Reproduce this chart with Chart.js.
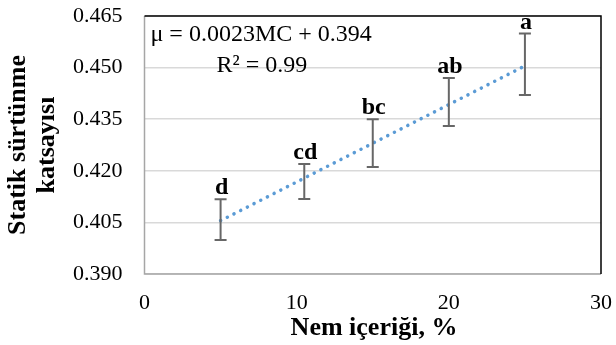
<!DOCTYPE html>
<html>
<head>
<meta charset="utf-8">
<script src="https://cdn.jsdelivr.net/npm/chart.js@4"></script>
<style>
  html, body { margin: 0; padding: 0; background: #fff; }
  #wrap { width: 616px; height: 345px; }
</style>
</head>
<body>
<div id="wrap"><canvas id="chart" width="616" height="345"></canvas></div>
<script>
// ---------- Data ----------
const moisture = [5, 10.5, 15, 20, 25];
const meanFriction = [0.4055, 0.417, 0.4283, 0.4397, 0.4505];
const errLow = [0.3999, 0.4118, 0.4211, 0.4330, 0.4420];
const errHigh = [0.4117, 0.4220, 0.4350, 0.4470, 0.4599];
const groupLetters = ["d", "cd", "bc", "ab", "a"];

const trendX = [5, 25];
const trendY = [0.4055, 0.4505];

const yTicks = [0.390, 0.405, 0.420, 0.435, 0.450, 0.465];
const xTicks = [0, 10, 20, 30];

const equationLines = ["μ = 0.0023MC + 0.394", "R² = 0.99"];
const xTitle = "Nem içeriği, %";
const yTitle = ["Statik sürtünme", "katsayısı"];

const serif = '"Liberation Serif", "Times New Roman", serif';

// ---------- Plugin: error bars, letters, frame, titles ----------
const extras = {
  id: "extras",
  afterDatasetsDraw(chart) {
    const ctx = chart.ctx;
    const x = chart.scales.x;
    const y = chart.scales.y;
    const area = chart.chartArea;

    // error bars
    ctx.save();
    ctx.strokeStyle = "#676767";
    ctx.lineWidth = 2;
    moisture.forEach((m, i) => {
      const px = x.getPixelForValue(m);
      const top = y.getPixelForValue(errHigh[i]);
      const bot = y.getPixelForValue(errLow[i]);
      ctx.beginPath();
      ctx.moveTo(px, top);
      ctx.lineTo(px, bot);
      ctx.moveTo(px - 6, top);
      ctx.lineTo(px + 6, top);
      ctx.moveTo(px - 6, bot);
      ctx.lineTo(px + 6, bot);
      ctx.stroke();
    });

    // significance letters
    ctx.fillStyle = "#000";
    ctx.font = "bold 24px " + serif;
    ctx.textAlign = "center";
    ctx.textBaseline = "alphabetic";
    moisture.forEach((m, i) => {
      const px = x.getPixelForValue(m);
      const top = y.getPixelForValue(errHigh[i]);
      ctx.fillText(groupLetters[i], px + 1, top - 5);
    });

    // frame: gray left/bottom, black top/right
    ctx.lineWidth = 1.5;
    ctx.strokeStyle = "#a6a6a6";
    ctx.beginPath();
    ctx.moveTo(area.left, area.top);
    ctx.lineTo(area.left, area.bottom);
    ctx.lineTo(area.right, area.bottom);
    ctx.stroke();
    ctx.strokeStyle = "#000";
    ctx.beginPath();
    ctx.moveTo(area.left, area.top);
    ctx.lineTo(area.right, area.top);
    ctx.lineTo(area.right, area.bottom);
    ctx.stroke();

    // trendline equation
    ctx.font = "24px " + serif;
    ctx.textAlign = "left";
    ctx.fillText(equationLines[0], area.left + 6, 41);
    ctx.fillText(equationLines[1], area.left + 72, 72);

    // axis titles
    ctx.font = "bold 26px " + serif;
    ctx.textAlign = "center";
    ctx.fillText(xTitle, 374, 335);

    ctx.translate(0, 145);
    ctx.rotate(-Math.PI / 2);
    ctx.textBaseline = "middle";
    ctx.fillText(yTitle[0], 0, 18);
    ctx.fillText(yTitle[1], 0, 47);
    ctx.restore();
  }
};

// ---------- Chart ----------
const ctx = document.getElementById("chart").getContext("2d");

new Chart(ctx, {
  type: "scatter",
  data: {
    datasets: [
      {
        label: "Trend",
        type: "line",
        data: trendX.map((v, i) => ({ x: v, y: trendY[i] })),
        borderColor: "#5b9bd5",
        borderWidth: 3.5,
        borderDash: [0.1, 7.4],
        borderCapStyle: "round",
        pointRadius: 0,
        fill: false
      },
      {
        label: "Mean",
        data: moisture.map((v, i) => ({ x: v, y: meanFriction[i] })),
        pointRadius: 0,
        showLine: false
      }
    ]
  },
  options: {
    responsive: false,
    animation: false,
    layout: { padding: { left: 0, right: 15, top: 16, bottom: 0 } },
    plugins: {
      legend: { display: false },
      tooltip: { enabled: false }
    },
    scales: {
      x: {
        type: "linear",
        min: 0,
        max: 30,
        afterBuildTicks: (s) => { s.ticks = xTicks.map((v) => ({ value: v })); },
        afterFit: (s) => {
          s.height = 71;
          s.paddingLeft = 0;
          s.paddingRight = 0;
        },
        grid: { display: false, drawTicks: false },
        border: { display: false },
        ticks: {
          padding: 16,
          color: "#000",
          font: { family: serif, size: 22 }
        }
      },
      y: {
        type: "linear",
        min: 0.39,
        max: 0.465,
        afterBuildTicks: (s) => { s.ticks = yTicks.map((v) => ({ value: v })); },
        afterFit: (s) => {
          s.width = 144.5;
          s.paddingTop = 0;
          s.paddingBottom = 0;
        },
        grid: { color: "#d9d9d9", lineWidth: 1.5, drawTicks: false },
        border: { display: false },
        ticks: {
          padding: 22,
          color: "#000",
          font: { family: serif, size: 22 },
          callback: (v) => v.toFixed(3)
        }
      }
    }
  },
  plugins: [extras]
});
</script>
</body>
</html>
